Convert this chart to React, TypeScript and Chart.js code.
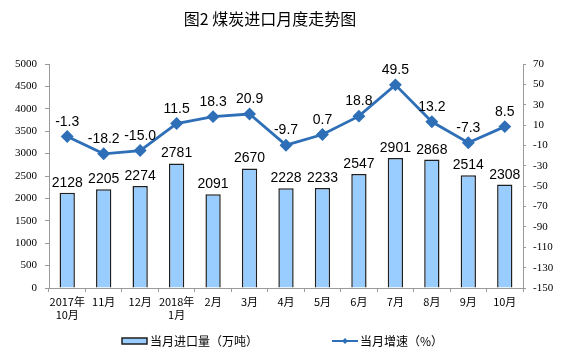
import React, { useEffect, useRef } from 'react';
import { Chart, registerables } from 'chart.js';

Chart.register(...registerables);

const chartTitle = '图2 煤炭进口月度走势图';
const categories: (string | string[])[] = [
  ['2017年', '10月'], '11月', '12月', ['2018年', '1月'], '2月', '3月', '4月',
  '5月', '6月', '7月', '8月', '9月', '10月',
];
const importVolume = [2128, 2205, 2274, 2781, 2091, 2670, 2228, 2233, 2547, 2901, 2868, 2514, 2308];
const growthRate = [-1.3, -18.2, -15.0, 11.5, 18.3, 20.9, -9.7, 0.7, 18.8, 49.5, 13.2, -7.3, 8.5];
const barLabel = '当月进口量（万吨）';
const lineLabel = '当月增速（%）';

const BAR_COLOR = '#99CCFF';
const BAR_BORDER = '#1f1f1f';
const LINE_COLOR = '#2E6FB7';
const AXIS_COLOR = '#9a9a9a';

const W = 561;
const H = 357;

const overlayPlugin = {
  id: 'overlay',
  afterDatasetsDraw(chart: any) {
    const ctx = chart.ctx as CanvasRenderingContext2D;
    ctx.save();
    ctx.fillStyle = '#000';
    ctx.font = '14px "Liberation Sans", Arial, sans-serif';
    ctx.textAlign = 'center';
    ctx.textBaseline = 'alphabetic';
    const barMeta = chart.getDatasetMeta(0);
    barMeta.data.forEach((el: any, i: number) => {
      ctx.fillText(String(importVolume[i]), el.x, el.y - 6);
    });
    const lineMeta = chart.getDatasetMeta(1);
    lineMeta.data.forEach((el: any, i: number) => {
      ctx.fillText(growthRate[i].toFixed(1), el.x, el.y - 11);
    });
    ctx.restore();
  },
  afterDraw(chart: any) {
    const ctx = chart.ctx as CanvasRenderingContext2D;
    ctx.save();
    // title
    ctx.fillStyle = '#000';
    ctx.font = '16px "Noto Sans CJK SC", sans-serif';
    ctx.textAlign = 'center';
    ctx.textBaseline = 'middle';
    ctx.fillText(chartTitle, 270, 19);

    // legend
    const ly = 341;
    ctx.fillStyle = BAR_COLOR;
    ctx.strokeStyle = BAR_BORDER;
    ctx.lineWidth = 1.5;
    ctx.fillRect(122, ly - 3, 25, 6);
    ctx.strokeRect(122, ly - 3, 25, 6);
    ctx.fillStyle = '#000';
    ctx.font = '12px "Noto Sans CJK SC", sans-serif';
    ctx.textAlign = 'left';
    ctx.textBaseline = 'middle';
    ctx.fillText(barLabel, 150, ly);

    ctx.strokeStyle = LINE_COLOR;
    ctx.lineWidth = 2;
    ctx.beginPath();
    ctx.moveTo(332, ly);
    ctx.lineTo(358, ly);
    ctx.stroke();
    ctx.fillStyle = LINE_COLOR;
    ctx.beginPath();
    ctx.moveTo(345, ly - 3);
    ctx.lineTo(348, ly);
    ctx.lineTo(345, ly + 3);
    ctx.lineTo(342, ly);
    ctx.closePath();
    ctx.fill();
    ctx.fillStyle = '#000';
    ctx.fillText(lineLabel, 360, ly);
    ctx.restore();
  },
};

export default function App() {
  const ref = useRef<HTMLCanvasElement>(null);
  useEffect(() => {
    document.body.style.margin = '0';
    if (!ref.current) return;
    const tickFont = { family: '"Liberation Serif", "Times New Roman", Times, serif', size: 11 };
    const chart = new Chart(ref.current, {
      type: 'bar',
      data: {
        labels: categories as any,
        datasets: [
          {
            type: 'bar',
            label: barLabel,
            data: importVolume,
            backgroundColor: BAR_COLOR,
            borderColor: BAR_BORDER,
            borderWidth: 1.5,
            barPercentage: 0.42,
            categoryPercentage: 1,
            yAxisID: 'y',
            order: 2,
          },
          {
            type: 'line',
            label: lineLabel,
            data: growthRate,
            borderColor: LINE_COLOR,
            backgroundColor: LINE_COLOR,
            borderWidth: 2.8,
            pointStyle: 'rectRot',
            pointRadius: 4.5,
            pointBackgroundColor: LINE_COLOR,
            pointBorderColor: LINE_COLOR,
            tension: 0,
            yAxisID: 'y1',
            order: 1,
          },
        ],
      },
      options: {
        responsive: false,
        animation: false,
        devicePixelRatio: 1,
        layout: { padding: { top: 64, left: 0, right: 0, bottom: 0 } },
        plugins: {
          legend: { display: false },
          title: { display: false },
          tooltip: { enabled: false },
        },
        scales: {
          x: {
            type: 'category',
            offset: true,
            grid: {
              offset: true,
              drawOnChartArea: false,
              drawTicks: true,
              tickLength: 4,
              color: AXIS_COLOR,
            },
            border: { display: true, color: AXIS_COLOR },
            ticks: {
              color: '#000',
              font: { family: '"Noto Sans CJK SC", sans-serif', size: 11 },
              maxRotation: 0,
              autoSkip: false,
              padding: 3,
            },
            afterFit(scale: any) {
              scale.height = H - 288;
            },
          },
          y: {
            position: 'left',
            min: 0,
            max: 5000,
            grid: {
              drawOnChartArea: false,
              drawTicks: true,
              tickLength: 4,
              color: AXIS_COLOR,
            },
            border: { display: true, color: AXIS_COLOR },
            ticks: {
              stepSize: 500,
              color: '#000',
              font: tickFont,
              padding: 8,
              callback: (v: any) => String(v),
            },
            afterFit(scale: any) {
              scale.width = 49;
            },
          },
          y1: {
            position: 'right',
            min: -150,
            max: 70,
            grid: {
              drawOnChartArea: false,
              drawTicks: true,
              tickLength: 3,
              color: AXIS_COLOR,
            },
            border: { display: true, color: AXIS_COLOR },
            ticks: {
              stepSize: 20,
              color: '#000',
              font: tickFont,
              padding: 7,
              callback: (v: any) => String(v),
            },
            afterFit(scale: any) {
              scale.width = W - 523;
            },
          },
        },
      },
      plugins: [overlayPlugin],
    });
    return () => chart.destroy();
  }, []);
  return (
    <div style={{ width: W, height: H }}>
      <canvas ref={ref} width={W} height={H} style={{ width: W, height: H, display: 'block' }} />
    </div>
  );
}
